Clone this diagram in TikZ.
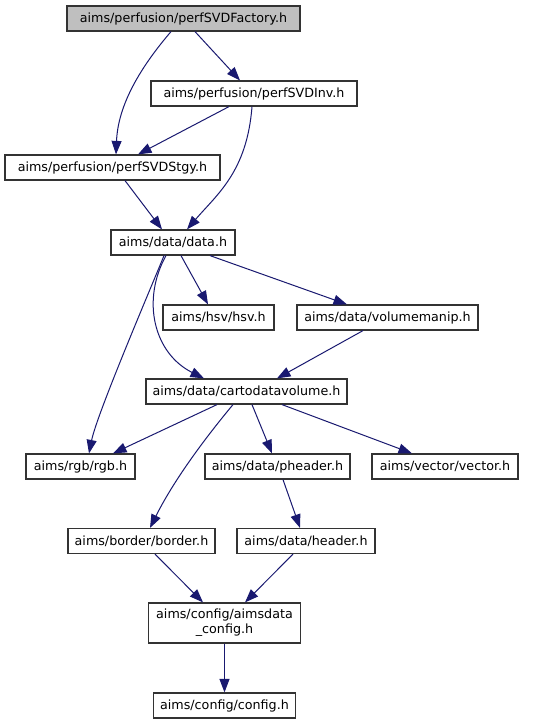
\documentclass[tikz,border=0pt]{standalone}
\usepackage{fontspec}
\setmainfont{DejaVu Sans}
\usetikzlibrary{arrows.meta}
\definecolor{edgecol}{HTML}{191970}
\definecolor{facgrey}{HTML}{BFBFBF}
\definecolor{boxline}{HTML}{333333}
\tikzset{
  hbox/.style={draw=boxline, line width=1.2pt, fill=white, inner sep=0pt, minimum height=25pt,
    font=\fontsize{12.7}{15}\selectfont, align=center},
  dep/.style={draw=edgecol, line width=1pt, -{Triangle[length=13.5pt,width=10pt,fill=edgecol]}}
}
\begin{document}
\begin{tikzpicture}[x=1pt,y=-1pt]
\useasboundingbox[fill=white] (0,0) rectangle (558,724);
\node[hbox, fill=facgrey, minimum width=233pt] (fac) at (183.5,18.5) {aims/perfusion/perfSVDFactory.h};
\node[hbox, minimum width=206pt] (inv) at (254,93.5) {aims/perfusion/perfSVDInv.h};
\node[hbox, minimum width=215pt] (stgy) at (112.5,167.5) {aims/perfusion/perfSVDStgy.h};
\node[hbox, minimum width=124pt] (data) at (173,242.5) {aims/data/data.h};
\node[hbox, minimum width=111pt] (hsv) at (218.5,317.5) {aims/hsv/hsv.h};
\node[hbox, minimum width=181pt] (vol) at (387.5,317.5) {aims/data/volumemanip.h};
\node[hbox, minimum width=201pt] (cdv) at (246.5,391.5) {aims/data/cartodatavolume.h};
\node[hbox, minimum width=109pt] (rgb) at (80.5,466.5) {aims/rgb/rgb.h};
\node[hbox, minimum width=145pt] (phd) at (277.5,466.5) {aims/data/pheader.h};
\node[hbox, minimum width=146pt] (vec) at (445,466.5) {aims/vector/vector.h};
\node[hbox, minimum width=147pt] (bor) at (141.5,541) {aims/border/border.h};
\node[hbox, minimum width=138pt] (hdr) at (306,541) {aims/data/header.h};
\node[hbox, minimum width=152pt, minimum height=40pt] (adc) at (224.5,623) {aims/config/aimsdata\\\_config.h};
\node[hbox, minimum width=142pt] (cfg) at (224.5,705.5) {aims/config/config.h};

\draw[dep] ([xshift=11.5pt]fac.south) -- ([xshift=-14pt]inv.north);
\draw[dep] ([xshift=-12.5pt]fac.south) .. controls +(-30,35) and +(2,-50) .. ([xshift=3.5pt]stgy.north);
\draw[dep] ([xshift=-25pt]inv.south) -- ([xshift=25.5pt]stgy.north);
\draw[dep] ([xshift=-2pt]inv.south) .. controls +(-5,65) and +(30,-35) .. ([xshift=14pt]data.north);
\draw[dep] ([xshift=12.5pt]stgy.south) -- ([xshift=-11pt]data.north);
\draw[dep] ([xshift=8pt]data.south) -- ([xshift=-10.5pt]hsv.north);
\draw[dep] ([xshift=37pt]data.south) -- ([xshift=-40.5pt]vol.north);
\draw[dep] ([xshift=-7pt]data.south) .. controls +(-25,45) and +(-50,-25) .. ([xshift=-42.5pt]cdv.north);
\draw[dep] ([xshift=-9pt]data.south) .. controls +(-10,25) and +(8,-40) .. ([xshift=8.5pt]rgb.north);
\draw[dep] ([xshift=-24.5pt]vol.south) -- ([xshift=30.5pt]cdv.north);
\draw[dep] ([xshift=-29.5pt]cdv.south) -- ([xshift=32.5pt]rgb.north);
\draw[dep] ([xshift=-13.5pt]cdv.south) .. controls +(-25,30) and +(25,-50) .. ([xshift=8.5pt]bor.north);
\draw[dep] ([xshift=5.5pt]cdv.south) -- ([xshift=-5.5pt]phd.north);
\draw[dep] ([xshift=35.5pt]cdv.south) -- ([xshift=-33pt]vec.north);
\draw[dep] ([xshift=5.5pt]phd.south) -- ([xshift=-6pt]hdr.north);
\draw[dep] ([xshift=13.5pt]bor.south) -- ([xshift=-21.5pt]adc.north);
\draw[dep] ([xshift=-13pt]hdr.south) -- ([xshift=20.5pt]adc.north);
\draw[dep] (adc.south) -- (cfg.north);
\end{tikzpicture}
\end{document}
